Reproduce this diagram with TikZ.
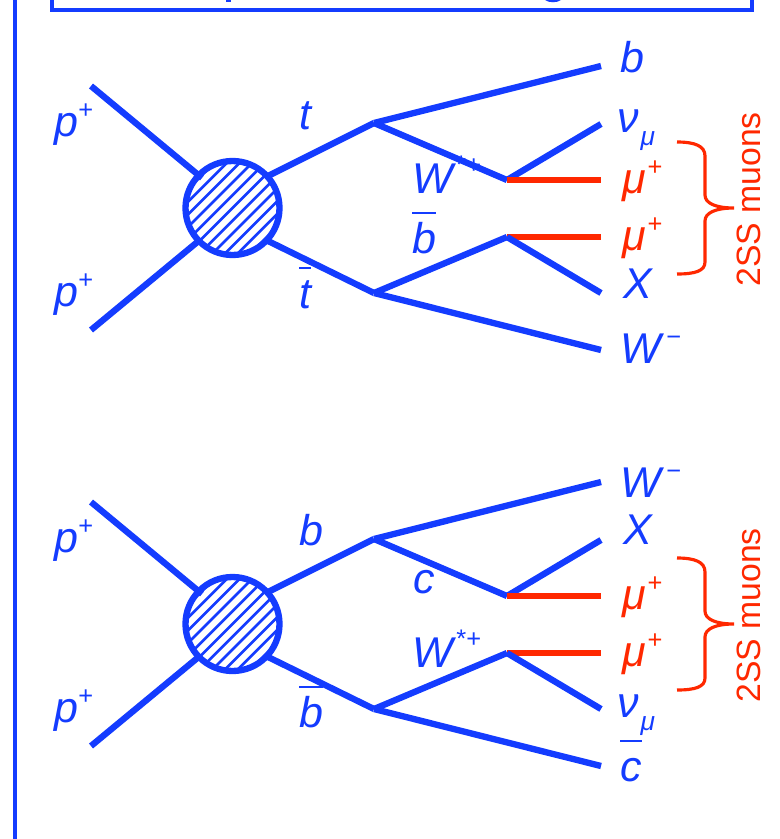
\documentclass[tikz,border=0pt]{standalone}
\usepackage{fontspec}
\setmainfont{Liberation Sans}
\usetikzlibrary{calc}
\definecolor{ppblue}{RGB}{20,60,255}
\definecolor{mured}{RGB}{255,40,0}
\newcommand{\supmark}[2]{\raisebox{#1}{\fontsize{14.5}{14}\selectfont\upshape #2}}
\newcommand{\barred}[1]{\setbox0\hbox{#1}\rlap{\rule[22pt]{\wd0}{1.1pt}}#1}
\newcommand{\munu}{\textit{ν}\raisebox{-7.5pt}{\hspace{1pt}\fontsize{15}{15}\selectfont μ}}

\begin{document}
\begin{tikzpicture}[
    x=0.02cm, y=-0.02cm,
    leg/.style={draw=ppblue, line width=3.6pt},
    mu/.style={draw=mured, line width=3.8pt},
    framing/.style={draw=ppblue, line width=2pt},
    lbl/.style={text=ppblue, font=\fontsize{24.5}{26}\selectfont\itshape, inner sep=0pt, anchor=base west},
    mulbl/.style={lbl, text=mured},
    blob/.style={circle, draw=ppblue, line width=3.6pt, minimum size=1.88cm, inner sep=0pt,
        path picture={
            \foreach \k in {-6,...,6}
                \draw[ppblue, line width=1.5pt]
                    ($(path picture bounding box.center)+(\k*12.7-60,60)$) --
                    ($(path picture bounding box.center)+(\k*12.7+60,-60)$);
        }},
    bracket/.style={draw=mured, line width=1.8pt},
    sidelbl/.style={text=mured, font=\fontsize{19.2}{20}\selectfont, inner sep=0pt, rotate=90}
]
\useasboundingbox (0,0) rectangle (780,839);

% === Frame ===
\draw[framing] (15,0) -- (15,839);
\draw[framing] (52,0) -- (52,10) -- (752,10) -- (752,0);
\fill[ppblue] (226,0) rectangle (231,2);
\fill[ppblue] (545,0) .. controls (549,3) and (557,3) .. (561,0) -- cycle;

% === Upper labels ===
\node[lbl] (pin1) at (54,136) {p\supmark{10pt}{+}};
\node[lbl] (pin2) at (54,306) {p\supmark{10pt}{+}};
\node[lbl] (qtop) at (299,129) {t};
\node[lbl] (qbar) at (299,308) {\barred{t}};
\node[lbl] (wstar) at (412,193) {W\supmark{11pt}{\hspace{2pt}*+}};
\node[lbl] (bbar) at (412,253) {\barred{b}};
\node[lbl] (bout) at (620,72) {b};
\node[lbl] (nuout) at (617,132) {\munu};
\node[mulbl] (muone) at (622,193) {μ\supmark{10pt}{\hspace{1pt}+}};
\node[mulbl] (mutwo) at (622,250) {μ\supmark{10pt}{\hspace{1pt}+}};
\node[lbl] (xout) at (623,298) {X};
\node[lbl] (wout) at (620,363) {W\supmark{10pt}{\hspace{3pt}−}};

% === Lower labels ===
\node[lbl] (pin3) at (54,552) {p\supmark{10pt}{+}};
\node[lbl] (pin4) at (54,722) {p\supmark{10pt}{+}};
\node[lbl] (qlow) at (299,545) {b};
\node[lbl] (qlowbar) at (299,727) {\barred{b}};
\node[lbl] (cmid) at (413,593) {c};
\node[lbl] (wstarlow) at (412,667) {W\supmark{11pt}{\hspace{2pt}*+}};
\node[lbl] (woutlow) at (620,497) {W\supmark{10pt}{\hspace{3pt}−}};
\node[lbl] (xoutlow) at (623,544) {X};
\node[mulbl] (muthree) at (622,609) {μ\supmark{10pt}{\hspace{1pt}+}};
\node[mulbl] (mufour) at (622,666) {μ\supmark{10pt}{\hspace{1pt}+}};
\node[lbl] (nuoutlow) at (617,717) {\munu};
\node[lbl] (cbar) at (620,781) {\barred{c}};

% === Both diagrams ===
\foreach \tag/\dy in {up/0,low/416} {
\begin{scope}[shift={(0,\dy)}, name prefix=\tag-]
    \coordinate (inA) at (91,86);
    \coordinate (inB) at (91,330);
    \coordinate (hitA) at (202,178);
    \coordinate (hitB) at (201,239);
    \coordinate (hitC) at (266,177);
    \coordinate (hitD) at (266,240);
    \coordinate (forkA) at (374,123);
    \coordinate (forkB) at (374,293);
    \coordinate (forkC) at (507,180);
    \coordinate (forkD) at (507,237);
    \coordinate (outA) at (601,66);
    \coordinate (outB) at (601,124);
    \coordinate (outC) at (601,180);
    \coordinate (outD) at (601,237);
    \coordinate (outE) at (601,293);
    \coordinate (outF) at (601,350);

    \node[blob] (core) at (232.5,208) {};

    \draw[leg] (inA) -- (hitA);
    \draw[leg] (inB) -- (hitB);
    \draw[leg] (hitC) -- (forkA);
    \draw[leg] (hitD) -- (forkB);
    \draw[leg] (forkA) -- (outA);
    \draw[leg] (forkA) -- (forkC);
    \draw[leg] (forkC) -- (outB);
    \draw[mu] (forkC) -- (outC);
    \draw[mu] (forkD) -- (outD);
    \draw[leg] (forkB) -- (forkD);
    \draw[leg] (forkD) -- (outE);
    \draw[leg] (forkB) -- (outF);

    % brace and its label
    \draw[bracket] (677,142) .. controls (695,142) and (705,146) .. (705,156) -- (705,195)
        .. controls (705,203) and (715,208) .. (734,208)
        .. controls (715,208) and (705,213) .. (705,221) -- (705,262)
        .. controls (705,271) and (695,274) .. (677,274);
    \node[sidelbl] (tag) at (749,199.5) {2SS muons};
\end{scope}
}

\end{tikzpicture}
\end{document}
